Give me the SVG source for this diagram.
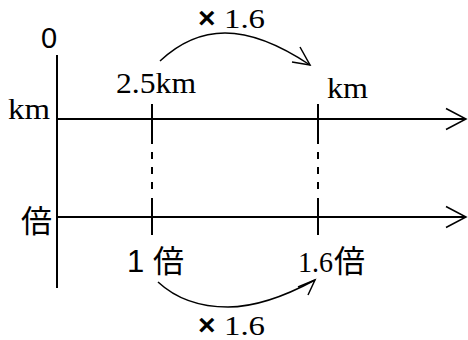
<svg xmlns="http://www.w3.org/2000/svg" width="468" height="340" viewBox="0 0 468 340">
<defs>
<style>
.ln{stroke:#000;stroke-width:2;fill:none}
.thin{stroke:#000;stroke-width:1.5;fill:none}
.s{font-family:'Liberation Sans',Arial,sans-serif}
.r{font-family:'Liberation Serif','Times New Roman',serif}
.j{font-family:'Noto Sans CJK JP',sans-serif}
</style>
</defs>
<g id="connectors">
<line class="ln" x1="57" y1="55" x2="57" y2="288"/>
<line class="ln" x1="57" y1="119" x2="465" y2="119"/>
<polyline class="thin" points="446,108.5 466,119 446,129.5"/>
<line class="ln" x1="57" y1="217" x2="465" y2="217"/>
<polyline class="thin" points="446,206.5 466,217 446,227.5"/>
<line class="ln" x1="152" y1="104" x2="152" y2="144"/>
<line class="ln" x1="152" y1="152" x2="152" y2="190" stroke-dasharray="7,8"/>
<line class="ln" x1="152" y1="198" x2="152" y2="235"/>
<line class="ln" x1="318" y1="104" x2="318" y2="144"/>
<line class="ln" x1="318" y1="152" x2="318" y2="190" stroke-dasharray="7,8"/>
<line class="ln" x1="318" y1="198" x2="318" y2="235"/>
<path class="thin" d="M160,61 Q190,33 225,33 Q262,33 310,65"/>
<polyline class="thin" points="300,47 310,65 292,62"/>
<path class="thin" d="M158,282 Q185,307 228,307 Q265,307 315,280"/>
<polyline class="thin" points="298,287 315,280 308,295"/>
</g>
<g id="labels" fill="#000">
<text class="s" style="font-size:29px" x="41" y="48">0</text>
<text class="r" style="font-size:29px" x="8" y="119" textLength="42" lengthAdjust="spacingAndGlyphs">km</text>
<text class="r" style="font-size:29px" x="116" y="93" textLength="80" lengthAdjust="spacingAndGlyphs">2.5km</text>
<text class="r" style="font-size:29px" x="327" y="98" textLength="41" lengthAdjust="spacingAndGlyphs">km</text>
<text class="j" style="font-size:31px" x="21" y="232">倍</text>
<text class="s" style="font-size:31px" x="127" y="272">1</text>
<text class="j" style="font-size:31px" x="153" y="272">倍</text>
<text class="r" style="font-size:29px" x="298" y="272" textLength="35" lengthAdjust="spacingAndGlyphs">1.6</text>
<text class="j" style="font-size:31px" x="334" y="272">倍</text>
<text class="s" style="font-size:30px;font-weight:bold" x="198" y="28">×</text>
<text class="r" style="font-size:28px" x="224" y="28" textLength="41" lengthAdjust="spacingAndGlyphs">1.6</text>
<text class="s" style="font-size:30px;font-weight:bold" x="198" y="335">×</text>
<text class="r" style="font-size:28px" x="224" y="335" textLength="41" lengthAdjust="spacingAndGlyphs">1.6</text>
</g>
</svg>
